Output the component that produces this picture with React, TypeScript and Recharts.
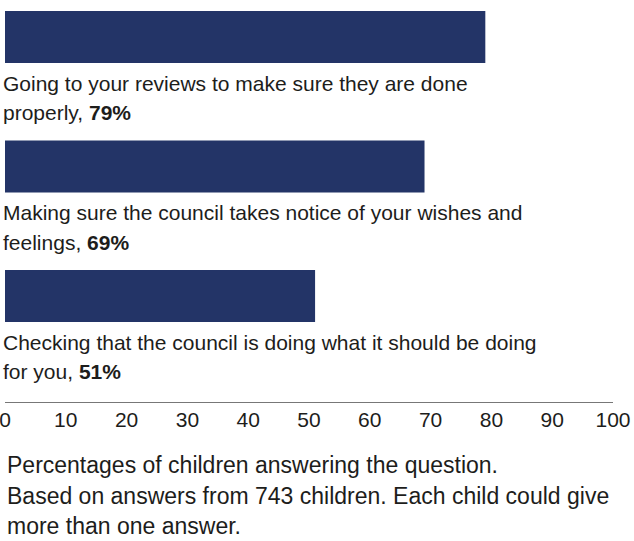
import { BarChart, Bar, XAxis, YAxis, LabelList } from "recharts";

const categories = [
    "Going to your reviews to make sure they are done properly",
    "Making sure the council takes notice of your wishes and feelings",
    "Checking that the council is doing what it should be doing for you",
];

// how each category label wraps onto two lines
const labelLines = [
    ["Going to your reviews to make sure they are done", "properly"],
    ["Making sure the council takes notice of your wishes and", "feelings"],
    ["Checking that the council is doing what it should be doing", "for you"],
];

const percentages = [79, 69, 51];

const xTicks = [0, 10, 20, 30, 40, 50, 60, 70, 80, 90, 100];

const footnotes = [
    "Percentages of children answering the question.",
    "Based on answers from 743 children. Each child could give",
    "more than one answer.",
];

const BAR_COLOR = "#233467";
const TEXT_COLOR = "#1d1d1b";
const FONT = "'Liberation Sans', Arial, sans-serif";

const data = categories.map((name, i) => ({ name, value: percentages[i] }));

function BarLabel(props: any) {
    const { x, y, height, index } = props;
    const lines = labelLines[index];
    const top = Number(y) + Number(height);
    return (
        <text x={Number(x) - 2} y={top + 27.5} fill={TEXT_COLOR} fontSize={21} fontFamily={FONT}>
            <tspan x={Number(x) - 2}>{lines[0]}</tspan>
            <tspan x={Number(x) - 2} dy={29.5}>
                {lines[1]},{" "}
                <tspan fontWeight="bold">{percentages[index]}%</tspan>
            </tspan>
        </text>
    );
}

export default function App() {
    return (
        <div style={{ position: "absolute", left: 0, top: 0, width: 634, height: 541, background: "#fff" }}>
            <BarChart
                width={634}
                height={541}
                data={data}
                layout="vertical"
                margin={{ top: 0, right: 21, left: 5, bottom: 108.5 }}
            >
                <XAxis
                    type="number"
                    domain={[0, 100]}
                    ticks={xTicks}
                    interval={0}
                    tickLine={false}
                    axisLine={{ stroke: "#777" }}
                    tickMargin={4}
                    height={30}
                    tick={{ fill: TEXT_COLOR, fontSize: 21, fontFamily: FONT }}
                />
                <YAxis type="category" dataKey="name" hide padding={{ top: -28, bottom: 42 }} />
                <Bar dataKey="value" fill={BAR_COLOR} barSize={52} isAnimationActive={false}>
                    <LabelList dataKey="value" content={<BarLabel />} />
                </Bar>
            </BarChart>
            <div
                style={{
                    position: "absolute",
                    left: 7,
                    top: 450,
                    fontFamily: FONT,
                    fontSize: 23,
                    lineHeight: "30.5px",
                    color: TEXT_COLOR,
                    whiteSpace: "nowrap",
                }}
            >
                {footnotes.map((line) => (
                    <div key={line}>{line}</div>
                ))}
            </div>
        </div>
    );
}
